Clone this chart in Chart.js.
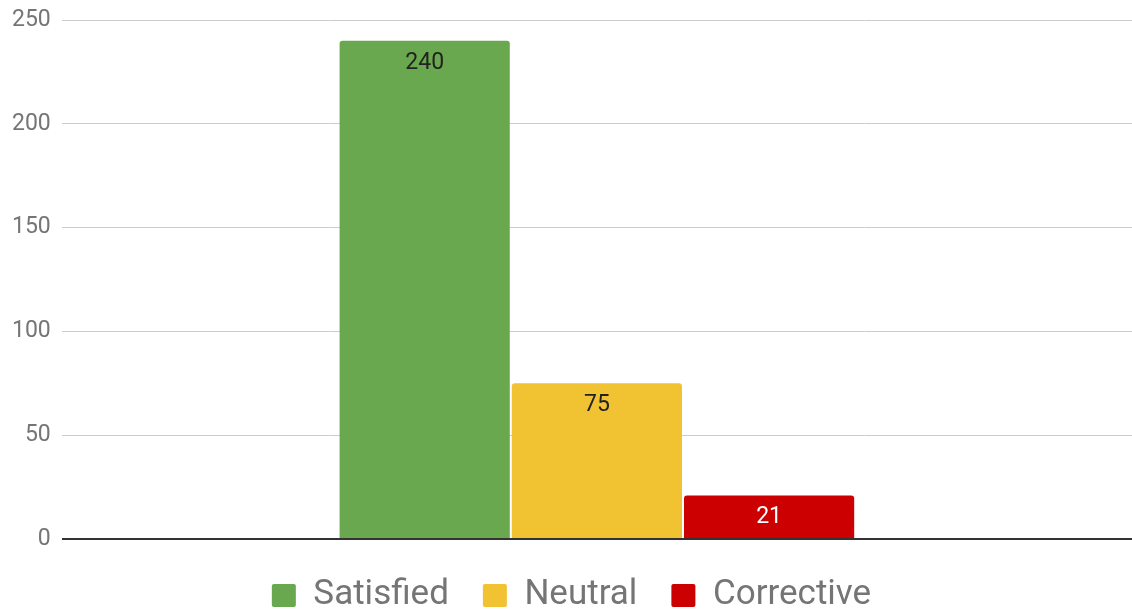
<!DOCTYPE html>
<html>
<head>
<meta charset="utf-8">
<script src="https://cdn.jsdelivr.net/npm/chart.js@4"></script>
<style>
    html, body { margin: 0; padding: 0; background: #fff; }
    #wrap { width: 1132px; height: 611px; position: relative; }
</style>
</head>
<body>
<div id="wrap"><canvas id="surveyChart"></canvas></div>
<script>
// Data
const categories = [''];
const seriesNames = ['Satisfied', 'Neutral', 'Corrective'];
const satisfied = [240];
const neutral = [75];
const corrective = [21];
const yTicks = [0, 50, 100, 150, 200, 250];

const barColors = ['#6aa84f', '#f1c232', '#cc0000'];
const labelColors = ['#222222', '#222222', '#ffffff'];

// Value labels inside the top of each bar
const valueLabels = {
    id: 'valueLabels',
    afterDatasetsDraw(chart) {
        const ctx = chart.ctx;
        ctx.save();
        ctx.font = "23px Roboto, sans-serif";
        ctx.textAlign = 'center';
        ctx.textBaseline = 'middle';
        chart.data.datasets.forEach((ds, i) => {
            const meta = chart.getDatasetMeta(i);
            meta.data.forEach((bar, j) => {
                ctx.fillStyle = labelColors[i];
                ctx.fillText(ds.data[j], bar.x, bar.y + 22);
            });
        });
        ctx.restore();
    }
};

// nudge the legend row (item spacing and top offset share one padding)
const legendShift = {
    id: 'legendShift',
    afterLayout(chart) {
        if (chart.legend) {
            chart.legend.top += 5;
            chart.legend.bottom += 5;
            chart.legend.left += 10;
            chart.legend.right += 0;
        }
    }
};

const datasets = [satisfied, neutral, corrective].map((values, i) => ({
    label: seriesNames[i],
    data: values,
    backgroundColor: barColors[i],
    borderRadius: 3,
    categoryPercentage: 0.4827,
    barPercentage: 0.9884
}));

Chart.defaults.font.family = "Roboto, sans-serif";
Chart.defaults.color = '#757575';

new Chart(document.getElementById('surveyChart').getContext('2d'), {
    type: 'bar',
    data: { labels: categories, datasets },
    options: {
        responsive: true,
        maintainAspectRatio: false,
        animation: false,
        events: [],
        layout: { padding: { top: 20, left: 1, right: 0, bottom: 0 } },
        scales: {
            x: { display: false },
            y: {
                min: 0,
                max: 250,
                afterBuildTicks: scale => { scale.ticks = yTicks.map(v => ({ value: v })); },
                afterFit: scale => { scale.paddingTop = 0; scale.paddingBottom = 0; },
                ticks: { font: { size: 23 }, color: '#757575', padding: 11 },
                border: { display: false },
                grid: {
                    drawTicks: false,
                    color: c => c.tick.value === 0 ? '#333333' : '#cccccc',
                    lineWidth: c => c.tick.value === 0 ? 2 : 1
                }
            }
        },
        plugins: {
            tooltip: { enabled: false },
            legend: {
                position: 'bottom',
                maxHeight: 72,
                labels: {
                    boxWidth: 24,
                    boxHeight: 23,
                    useBorderRadius: true,
                    borderRadius: 2,
                    padding: 34,
                    color: '#757575',
                    font: { size: 35 }
                }
            }
        }
    },
    plugins: [valueLabels, legendShift]
});
</script>
</body>
</html>
